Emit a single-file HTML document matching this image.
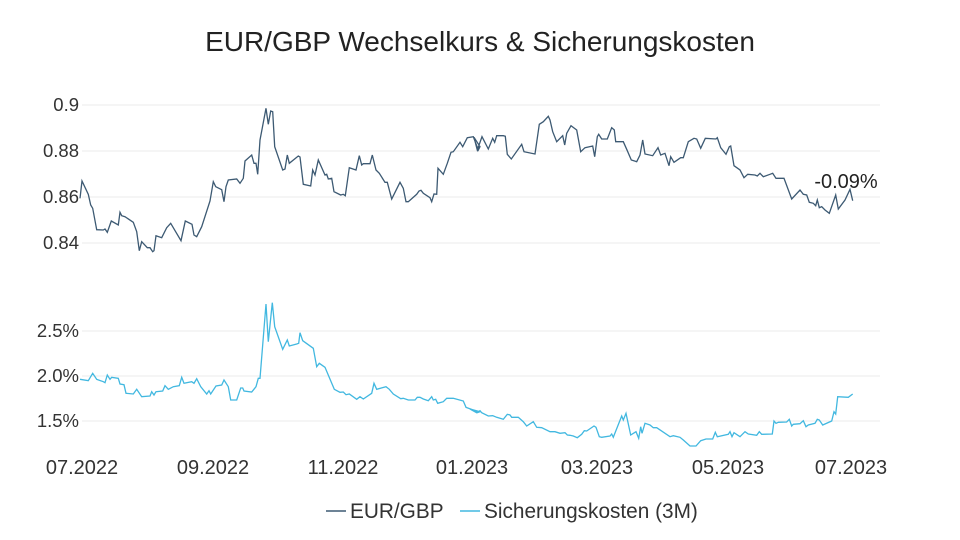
<!DOCTYPE html>
<html><head><meta charset="utf-8"><style>
html,body{margin:0;padding:0;background:#fff;}
svg{display:block;font-family:"Liberation Sans",Arial,sans-serif;}
</style></head><body>
<svg id="s" width="960" height="540" viewBox="0 0 960 540">
<text x="480" y="51" text-anchor="middle" font-size="28" fill="#222">EUR/GBP Wechselkurs &amp; Sicherungskosten</text>
<g stroke="#ebebeb" stroke-width="1">
<line x1="82" x2="880" y1="105" y2="105"/><line x1="82" x2="880" y1="151" y2="151"/>
<line x1="82" x2="880" y1="197" y2="197"/><line x1="82" x2="880" y1="243" y2="243"/>
<line x1="82" x2="880" y1="331" y2="331"/><line x1="82" x2="880" y1="376" y2="376"/>
<line x1="82" x2="880" y1="421" y2="421"/>
</g>
<g font-size="18.5" fill="#333" text-anchor="end">
<text x="79" y="111">0.9</text><text x="79" y="157">0.88</text><text x="79" y="203">0.86</text><text x="79" y="249">0.84</text>
<text x="79" y="337">2.5%</text><text x="79" y="382">2.0%</text><text x="79" y="427">1.5%</text>
</g>
<g font-size="20" fill="#333" text-anchor="middle">
<text x="82" y="474">07.2022</text><text x="213" y="474">09.2022</text><text x="343" y="474">11.2022</text>
<text x="472" y="474">01.2023</text><text x="597" y="474">03.2023</text><text x="728" y="474">05.2023</text><text x="851" y="474">07.2023</text>
</g>
<text x="846" y="188" text-anchor="middle" font-size="20" fill="#222">-0.09%</text>
<g font-size="20.8" fill="#333">
<line x1="326" x2="346" y1="511" y2="511" stroke="#3d5a73" stroke-width="1.5"/>
<text x="350" y="518">EUR/GBP</text>
<line x1="460" x2="480" y1="511" y2="511" stroke="#42b8e0" stroke-width="1.5"/>
<text x="484" y="518">Sicherungskosten (3M)</text>
</g>
<polyline id="a" fill="none" stroke="#3d5a73" stroke-width="1.3"/>
<polyline id="b" fill="none" stroke="#42b8e0" stroke-width="1.3"/>
</svg>
<script>
function cv(arr,ox,oy){var o=[];for(var i=0;i<arr.length;i+=2)o.push((ox+arr[i]/3).toFixed(1)+','+(oy+arr[i+1]/3).toFixed(1));return o;}
var t1=[30,310,36,258,55,298,62,330,68,340,80,404,100,405,105,402,112,412,124,378,145,390,150,352,155,362,165,365,190,382,200,410,208,467,215,440,232,458,240,458,248,470,252,467,258,422,275,428,290,398,302,385,333,437,346,378,366,388,372,420,380,425,395,395,420,318,430,260,437,275,455,284,462,320,468,275,475,255,500,252,510,265,520,250,525,198,545,180,552,205,558,205,563,238,570,135,588,40,595,88,602,48,608,50,614,155,638,225,645,222,652,180,658,205,685,183,690,186,700,268,722,273,728,225,735,240,745,195,765,240,770,238,775,252,785,250,792,290,812,300,820,298,826,302,838,218,858,225,868,182,875,210,880,206,900,206,907,180,918,225,928,235,945,262,952,262,965,312,990,262,1000,280,1008,320,1015,320,1040,298,1047,288,1053,286,1060,295,1080,308,1085,320,1092,297,1100,298,1104,220,1120,238,1132,205,1143,172,1150,170,1170,142,1178,155,1192,128,1210,125,1225,165,1230,155];
var t2=[12,127,22,165,36,125,55,162,68,130,74,142,80,122,100,122,106,124,112,178,124,192,155,148,162,170,195,177,208,88,220,80,235,64,240,75,248,110,260,140,278,122,284,150,290,115,303,92,320,105,332,170,345,158,368,153,374,185,382,125,386,118,395,132,412,132,425,98,433,105,437,140,460,140,470,163,484,195,500,200,510,180,518,135,525,177,548,182,564,158,572,180,585,175,597,212,602,185,612,202,632,188,640,188,655,140,672,130,680,132,692,160,706,130,738,132,742,128,752,158,768,178,778,155,782,153,792,212,810,225,822,248,833,238,855,240,862,243,870,235,880,245,900,238,908,235,918,250,942,250,965,312,990,285,1000,298,1010,300,1018,322,1030,325,1037,332,1042,315,1048,338,1055,335,1065,345,1078,355,1097,300,1105,342,1125,315,1140,283,1148,317];
var b1=[30,268,55,272,68,250,80,268,100,275,105,278,112,255,120,268,125,262,145,265,150,282,162,284,168,310,190,312,200,298,215,320,240,318,245,305,252,315,258,305,278,303,285,287,295,298,310,290,328,287,335,262,342,280,365,275,372,280,380,266,392,290,410,312,417,302,422,312,438,288,455,285,462,270,475,290,482,330,500,330,512,294,518,294,522,303,545,306,558,290,565,265,570,265,588,42,595,155,607,38,614,110,638,178,652,150,658,168,680,162,686,160,690,128,698,152,730,175,740,230,748,220,765,232,793,298,810,307,820,306,828,314,838,312,860,328,870,320,880,327,905,310,912,280,920,298,948,290,958,298,970,312,992,326,1000,325,1015,330,1035,330,1042,322,1050,322,1060,327,1075,332,1085,320,1090,330,1097,328,1103,340,1120,335,1130,325,1150,325,1180,333,1188,352,1210,360,1222,368,1230,365];
var b2=[0,357,20,368,30,362,35,368,55,378,68,377,80,382,100,388,112,373,120,375,125,382,145,382,160,395,170,408,190,395,200,412,215,413,240,425,255,425,270,430,285,428,292,435,300,436,310,438,322,443,335,433,343,422,350,423,372,408,378,412,388,440,395,442,420,438,425,432,430,442,455,378,460,390,468,370,482,435,498,425,506,445,512,410,516,430,525,400,540,405,550,413,560,413,600,440,610,437,630,442,640,450,660,468,678,468,692,452,708,447,728,447,736,427,742,440,775,433,780,425,786,440,792,428,810,440,825,425,835,432,860,436,868,425,875,433,907,432,912,393,918,400,925,397,950,396,958,388,965,408,970,403,990,401,1000,392,1008,410,1015,405,1035,400,1042,388,1048,390,1058,405,1085,393,1092,365,1097,372,1103,320,1135,322,1148,312];
document.getElementById('a').setAttribute('points',cv(t1,70,95).concat(cv(t2,470,95)).join(' '));
document.getElementById('b').setAttribute('points',cv(b1,70,290).concat(cv(b2,470,290)).join(' '));
</script>
</body></html>
